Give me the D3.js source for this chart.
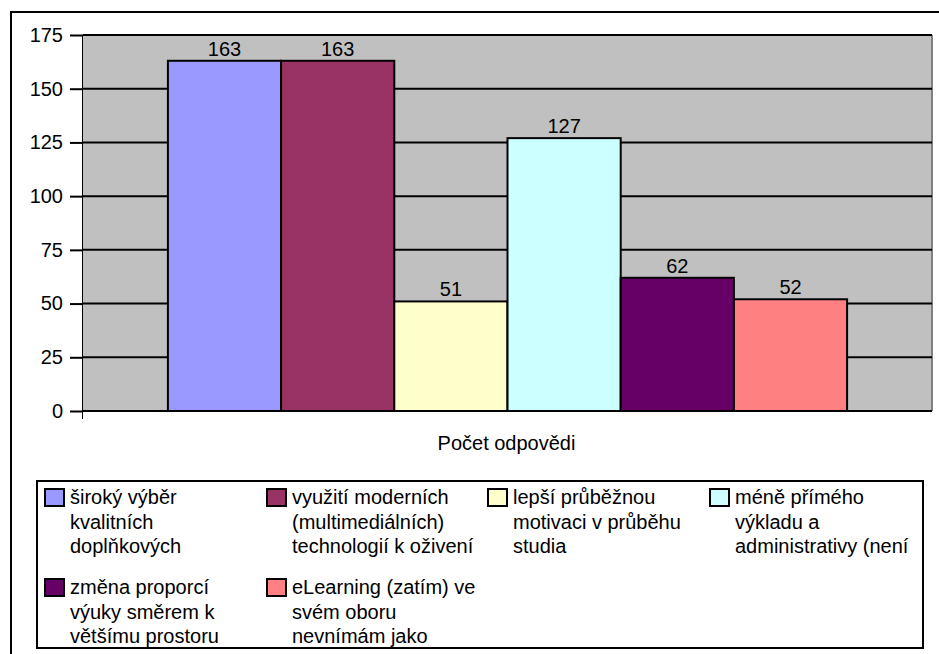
<!DOCTYPE html>
<html><head><meta charset="utf-8">
<script src="https://cdn.jsdelivr.net/npm/d3@7"></script>
<style>body{margin:0;background:#fff;}svg{display:block;font-family:"Liberation Sans",Arial,sans-serif;}</style>
</head><body>
<svg id="c" width="939" height="654"></svg>
<script>
const categories = ["Počet odpovědi"];
const seriesNames = [
  ["široký výběr","kvalitních","doplňkových"],
  ["využití moderních","(multimediálních)","technologií k oživení"],
  ["lepší průběžnou","motivaci v průběhu","studia"],
  ["méně přímého","výkladu a","administrativy (není"],
  ["změna proporcí","výuky směrem k","většímu prostoru"],
  ["eLearning (zatím) ve","svém oboru","nevnímám jako"]
];
const values = [163, 163, 51, 127, 62, 52];
const colors = ["#9999FF","#993366","#FFFFCC","#CCFFFF","#660066","#FF8080"];
const yTicks = [0,25,50,75,100,125,150,175];
const FS = 20;

const svg = d3.select("#c");
// outer frame
svg.append("rect").attr("x",11).attr("y",12).attr("width",940).attr("height",660)
  .attr("fill","#fff").attr("stroke","#000").attr("stroke-width",2);

const plot = {left:83, right:932, top:35, bottom:411};
const y = d3.scaleLinear().domain([0,175]).range([plot.bottom, plot.top]);
const x0 = d3.scaleBand().domain(categories).range([plot.left, plot.right]);
const bandW = x0.bandwidth();
const barW = bandW / (values.length + 1.5);
const x1 = d3.scaleBand().domain(d3.range(values.length))
  .range([x0(categories[0]) + barW*0.75, x0(categories[0]) + bandW - barW*0.75]).padding(0);

svg.append("rect").attr("x",plot.left).attr("y",plot.top)
  .attr("width",plot.right-plot.left).attr("height",plot.bottom-plot.top).attr("fill","#C0C0C0");
svg.append("line").attr("x1",plot.right).attr("x2",plot.right).attr("y1",plot.top).attr("y2",plot.bottom)
  .attr("stroke","#808080").attr("stroke-width",2);

// gridlines
svg.append("g").selectAll("line").data(yTicks.filter(d=>d>0)).join("line")
  .attr("x1",plot.left).attr("x2",plot.right).attr("y1",d=>y(d)).attr("y2",d=>y(d))
  .attr("stroke","#000").attr("stroke-width",2);

// bars
svg.append("g").selectAll("rect").data(values).join("rect")
  .attr("x",(d,i)=>x1(i)).attr("width",x1.bandwidth())
  .attr("y",d=>y(d)).attr("height",d=>plot.bottom-y(d))
  .attr("fill",(d,i)=>colors[i]).attr("stroke","#000").attr("stroke-width",2);

// value labels
svg.append("g").selectAll("text").data(values).join("text")
  .attr("x",(d,i)=>x1(i)+x1.bandwidth()/2).attr("y",d=>y(d)-5)
  .attr("text-anchor","middle").attr("font-size",FS).text(d=>d);

// y axis
const yAxis = d3.axisLeft(y).tickValues(yTicks).tickSize(13).tickPadding(7);
const ga = svg.append("g").attr("transform",`translate(${plot.left},0)`).call(yAxis);
ga.select(".domain").attr("stroke","#000").attr("stroke-width",1).attr("d",`M-0.5,${plot.top}V${plot.bottom+8}`);
ga.selectAll(".tick line").attr("stroke","#000").attr("stroke-width",2);
ga.selectAll(".tick text").attr("font-size",FS).attr("fill","#000").attr("font-family","Liberation Sans, Arial, sans-serif");
// x axis baseline
svg.append("line").attr("x1",plot.left).attr("x2",plot.right).attr("y1",plot.bottom).attr("y2",plot.bottom)
  .attr("stroke","#000").attr("stroke-width",2);

// category label
svg.append("text").attr("x",x0(categories[0])+bandW/2 - 1).attr("y",450).attr("text-anchor","middle")
  .attr("font-size",FS).text(categories[0]);

// legend
svg.append("rect").attr("x",37).attr("y",481).attr("width",886).attr("height",167)
  .attr("fill","#fff").attr("stroke","#000").attr("stroke-width",2);
const colX = [45, 267, 488, 710];
const rowY = [489, 579];
const lg = svg.append("g").selectAll("g").data(seriesNames).join("g")
  .attr("transform",(d,i)=>`translate(${colX[i%4]},${rowY[Math.floor(i/4)]})`);
lg.append("rect").attr("x",0).attr("y",0).attr("width",19).attr("height",17)
  .attr("fill",(d,i)=>colors[i]).attr("stroke","#000").attr("stroke-width",2);
lg.append("text").attr("x",25).attr("y",15).attr("font-size",FS)
  .selectAll("tspan").data(d=>d).join("tspan").attr("x",25).attr("dy",(d,i)=>i?24.5:0).text(d=>d);
</script>
</body></html>
